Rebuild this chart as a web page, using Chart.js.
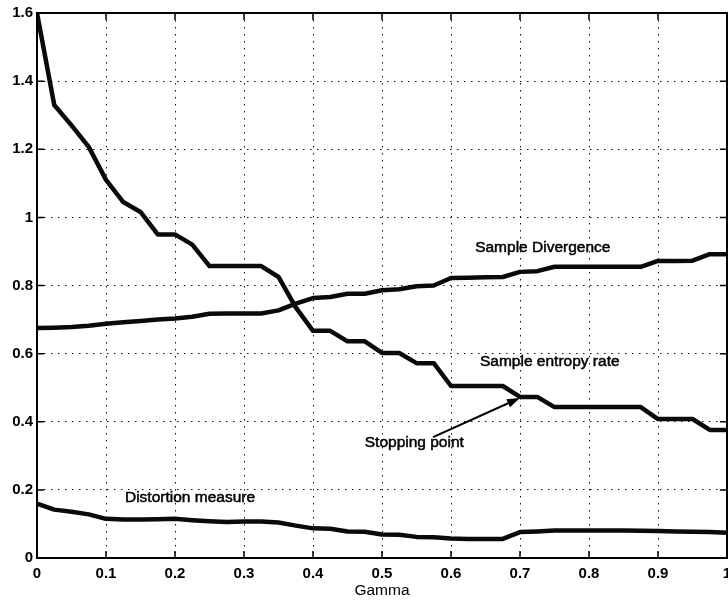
<!DOCTYPE html>
<html>
<head>
<meta charset="utf-8">
<script src="https://cdn.jsdelivr.net/npm/chart.js@4"></script>
<style>
  html, body { margin: 0; padding: 0; background: #fff; }
  #wrap { width: 728px; height: 600px; }
</style>
</head>
<body>
<div id="wrap"><canvas id="chart" width="728" height="600"></canvas></div>
<script>
// x values (Gamma)
const gamma = [0, 0.025, 0.05, 0.075, 0.1, 0.125, 0.15, 0.175, 0.2, 0.225,
               0.25, 0.275, 0.3, 0.325, 0.35, 0.375, 0.4, 0.425, 0.45, 0.475,
               0.5, 0.525, 0.55, 0.575, 0.6, 0.625, 0.65, 0.675, 0.7, 0.725,
               0.75, 0.775, 0.8, 0.825, 0.85, 0.875, 0.9, 0.925, 0.95, 0.975, 1];

const entropyRate = [1.60, 1.33, 1.27, 1.207, 1.11, 1.045, 1.016, 0.95, 0.95, 0.92,
                     0.857, 0.857, 0.857, 0.857, 0.825, 0.736, 0.667, 0.667, 0.636, 0.636,
                     0.602, 0.602, 0.572, 0.572, 0.505, 0.505, 0.505, 0.505, 0.473, 0.473,
                     0.443, 0.443, 0.443, 0.443, 0.443, 0.443, 0.408, 0.408, 0.408, 0.376, 0.376];

const divergence = [0.675, 0.676, 0.678, 0.682, 0.688, 0.692, 0.696, 0.70, 0.703, 0.708,
                    0.717, 0.718, 0.718, 0.718, 0.727, 0.747, 0.763, 0.766, 0.776, 0.776,
                    0.786, 0.789, 0.798, 0.80, 0.822, 0.823, 0.824, 0.825, 0.84, 0.842,
                    0.855, 0.855, 0.855, 0.855, 0.855, 0.855, 0.872, 0.872, 0.873, 0.892, 0.892];

const distortion = [0.16, 0.142, 0.136, 0.128, 0.115, 0.113, 0.113, 0.114, 0.115, 0.111,
                    0.108, 0.106, 0.107, 0.107, 0.104, 0.095, 0.087, 0.086, 0.078, 0.077,
                    0.069, 0.068, 0.062, 0.061, 0.057, 0.056, 0.056, 0.056, 0.076, 0.078,
                    0.081, 0.081, 0.081, 0.081, 0.081, 0.080, 0.079, 0.078, 0.077, 0.076, 0.074];

const xTicks = [0, 0.1, 0.2, 0.3, 0.4, 0.5, 0.6, 0.7, 0.8, 0.9, 1];
const yTicks = [0, 0.2, 0.4, 0.6, 0.8, 1, 1.2, 1.4, 1.6];

// text labels placed in data coordinates
const notes = [
    { text: 'Sample Divergence', x: 0.635, y: 0.912 },
    { text: 'Sample entropy rate', x: 0.642, y: 0.575 },
    { text: 'Stopping point', x: 0.475, y: 0.337 },
    { text: 'Distortion measure', x: 0.1275, y: 0.178 }
];
const arrowFrom = { x: 0.574, y: 0.355 };
const arrowTo = { x: 0.70, y: 0.470 };

const FONT = "'Liberation Sans', Arial, Helvetica, sans-serif";

const toPoints = vals => vals.map((v, i) => ({ x: gamma[i], y: v }));

// frame with inward ticks, notes and arrow
const matlabFrame = {
    id: 'matlabFrame',
    afterDatasetsDraw(chart) {
        const { ctx, chartArea: a, scales: { x, y } } = chart;
        ctx.save();
        ctx.strokeStyle = '#000';
        ctx.lineWidth = 2;
        ctx.strokeRect(a.left, a.top, a.right - a.left, a.bottom - a.top);

        const tl = 7;
        ctx.lineWidth = 1.5;
        ctx.beginPath();
        xTicks.forEach(v => {
            const px = x.getPixelForValue(v);
            ctx.moveTo(px, a.bottom); ctx.lineTo(px, a.bottom - tl);
            ctx.moveTo(px, a.top); ctx.lineTo(px, a.top + tl);
        });
        yTicks.forEach(v => {
            const py = y.getPixelForValue(v);
            ctx.moveTo(a.left, py); ctx.lineTo(a.left + tl, py);
            ctx.moveTo(a.right, py); ctx.lineTo(a.right - tl, py);
        });
        ctx.stroke();

        ctx.fillStyle = '#000';
        ctx.font = '15.5px ' + FONT;
        ctx.textAlign = 'left';
        ctx.textBaseline = 'middle';
        ctx.lineWidth = 0.5;
        notes.forEach(n => {
            const px = x.getPixelForValue(n.x), py = y.getPixelForValue(n.y);
            ctx.fillText(n.text, px, py);
            ctx.strokeText(n.text, px, py);
        });

        // arrow
        const x0 = x.getPixelForValue(arrowFrom.x), y0 = y.getPixelForValue(arrowFrom.y);
        const x1 = x.getPixelForValue(arrowTo.x), y1 = y.getPixelForValue(arrowTo.y);
        const ang = Math.atan2(y1 - y0, x1 - x0);
        const hl = 13, hw = 4.5;
        ctx.lineWidth = 2;
        ctx.beginPath();
        ctx.moveTo(x0, y0);
        ctx.lineTo(x1 - hl * Math.cos(ang), y1 - hl * Math.sin(ang));
        ctx.stroke();
        ctx.beginPath();
        ctx.moveTo(x1, y1);
        ctx.lineTo(x1 - hl * Math.cos(ang) - hw * Math.sin(ang), y1 - hl * Math.sin(ang) + hw * Math.cos(ang));
        ctx.lineTo(x1 - hl * Math.cos(ang) + hw * Math.sin(ang), y1 - hl * Math.sin(ang) - hw * Math.cos(ang));
        ctx.closePath();
        ctx.fill();
        ctx.restore();
    }
};

const lineStyle = {
    borderColor: '#0a0a0a',
    borderWidth: 4.5,
    pointRadius: 0,
    tension: 0,
    fill: false,
    borderJoinStyle: 'round',
    borderCapStyle: 'butt'
};

new Chart(document.getElementById('chart'), {
    type: 'line',
    data: {
        datasets: [
            { label: 'Sample entropy rate', data: toPoints(entropyRate), ...lineStyle },
            { label: 'Sample Divergence', data: toPoints(divergence), ...lineStyle },
            { label: 'Distortion measure', data: toPoints(distortion), ...lineStyle }
        ]
    },
    options: {
        responsive: false,
        animation: false,
        layout: { padding: { top: 13, right: 1, left: 0, bottom: 0 } },
        plugins: { legend: { display: false }, tooltip: { enabled: false } },
        scales: {
            x: {
                type: 'linear',
                min: 0, max: 1,
                afterBuildTicks: s => { s.ticks = xTicks.map(v => ({ value: v })); },
                afterFit: s => { s.height = 42; s.paddingLeft = 0; s.paddingRight = 0; },
                ticks: {
                    color: '#000',
                    padding: 7,
                    maxRotation: 0,
                    font: { family: FONT, size: 15, weight: 'bold' },
                    callback: v => String(v)
                },
                grid: { color: '#111', lineWidth: 1, drawTicks: false },
                border: { display: false, dash: [1.5, 5.5] },
                title: {
                    display: true,
                    text: 'Gamma',
                    color: '#000',
                    padding: { top: 0, bottom: 0 },
                    font: { family: FONT, size: 15.5 }
                }
            },
            y: {
                type: 'linear',
                min: 0, max: 1.6,
                afterBuildTicks: s => { s.ticks = yTicks.map(v => ({ value: v })); },
                afterFit: s => { s.width = 37; s.paddingTop = 0; s.paddingBottom = 0; },
                ticks: {
                    color: '#000',
                    padding: 4,
                    font: { family: FONT, size: 15, weight: 'bold' },
                    callback: v => String(v)
                },
                grid: { color: '#111', lineWidth: 1, drawTicks: false },
                border: { display: false, dash: [1.5, 5.5] }
            }
        }
    },
    plugins: [matlabFrame]
});
</script>
</body>
</html>
